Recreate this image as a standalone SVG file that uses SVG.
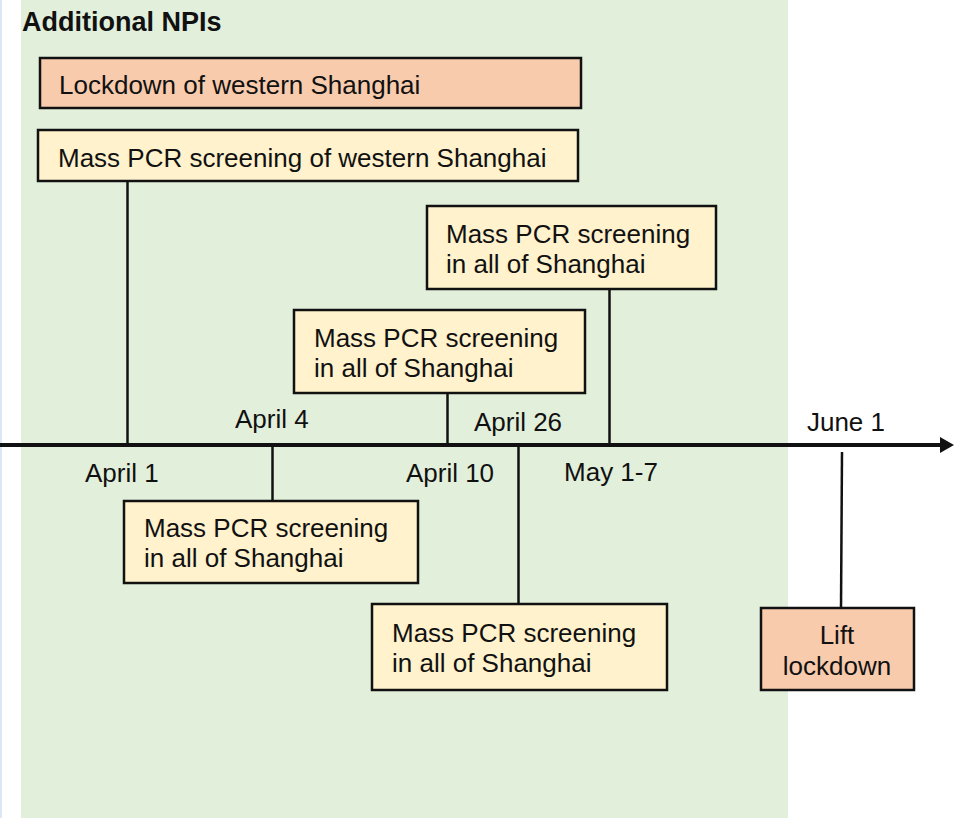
<svg xmlns="http://www.w3.org/2000/svg" width="954" height="818" viewBox="0 0 954 818">
<style>
text{font-family:"Liberation Sans",Arial,sans-serif;font-size:26px;fill:#111}
.title{font-weight:bold;font-size:27px}
.box{stroke:#111;stroke-width:2.5}
.pcr{fill:#FFF2CC}
.lock{fill:#F8CBAD}
.conn{stroke:#111;stroke-width:2.5;fill:none}
.mid{text-anchor:middle}
</style>
<rect x="0" y="0" width="954" height="818" fill="#ffffff"/>
<rect x="0" y="0" width="2" height="818" fill="#dbe7f4"/>
<rect id="panel" x="21" y="0" width="767" height="818" fill="#E2EFDA"/>
<text class="title" x="22" y="31">Additional NPIs</text>

<g id="connectors">
<line class="conn" x1="127.5" y1="181" x2="127.5" y2="444"/>
<line class="conn" x1="272.5" y1="446" x2="272.5" y2="501"/>
<line class="conn" x1="447.5" y1="393" x2="447.5" y2="444"/>
<line class="conn" x1="518.5" y1="446" x2="518.5" y2="604"/>
<line class="conn" x1="609.5" y1="289" x2="609.5" y2="444"/>
<line class="conn" x1="842" y1="452" x2="841" y2="608"/>
</g>

<g id="axis">
<line x1="0" y1="445" x2="942" y2="445" stroke="#111" stroke-width="4"/>
<polygon points="940,437 954,445 940,453" fill="#111"/>
<text x="85" y="482">April 1</text>
<text x="235" y="428">April 4</text>
<text class="mid" x="450" y="482">April 10</text>
<text class="mid" x="518" y="431">April 26</text>
<text class="mid" x="611" y="481">May 1-7</text>
<text class="mid" x="846" y="431">June 1</text>
</g>

<g id="lockdown-west">
<rect class="box lock" x="40" y="58" width="541" height="50"/>
<text x="59" y="94">Lockdown of western Shanghai</text>
</g>

<g id="pcr-west">
<rect class="box pcr" x="38" y="130" width="540" height="51"/>
<text x="58" y="167">Mass PCR screening of western Shanghai</text>
</g>

<g id="pcr-apr4">
<rect class="box pcr" x="124" y="501" width="294" height="82"/>
<text x="144" y="537">Mass PCR screening</text>
<text x="144" y="567">in all of Shanghai</text>
</g>

<g id="pcr-apr10">
<rect class="box pcr" x="294" y="310" width="291" height="83"/>
<text x="314" y="347">Mass PCR screening</text>
<text x="314" y="377">in all of Shanghai</text>
</g>

<g id="pcr-apr26">
<rect class="box pcr" x="372" y="604" width="295" height="86"/>
<text x="392" y="642">Mass PCR screening</text>
<text x="392" y="672">in all of Shanghai</text>
</g>

<g id="pcr-may">
<rect class="box pcr" x="427" y="206" width="289" height="83"/>
<text x="446" y="243">Mass PCR screening</text>
<text x="446" y="273">in all of Shanghai</text>
</g>

<g id="lift-lockdown">
<rect class="box lock" x="761" y="608" width="153" height="82"/>
<text class="mid" x="837" y="644">Lift</text>
<text class="mid" x="837" y="675">lockdown</text>
</g>
</svg>
